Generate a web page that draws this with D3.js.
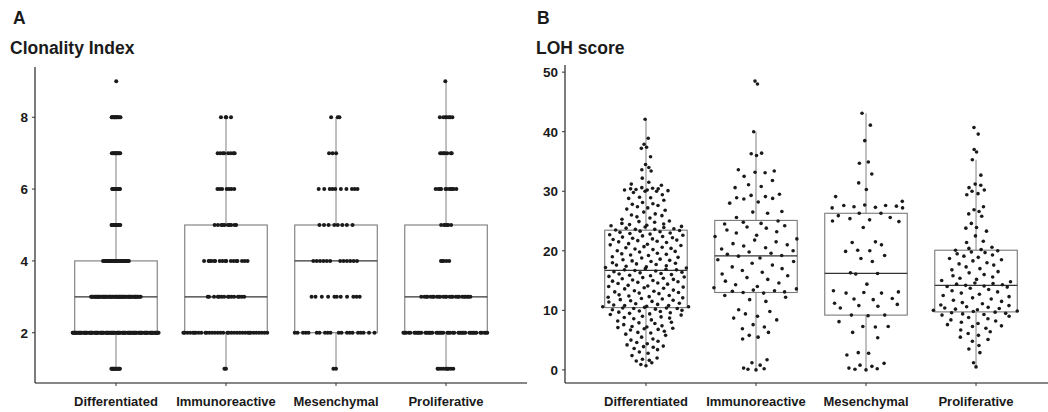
<!DOCTYPE html>
<html><head><meta charset="utf-8">
<script src="https://cdn.jsdelivr.net/npm/d3@7"></script>
<style>
body{margin:0;background:#fff}
text{font-family:"Liberation Sans",Arial,Helvetica,sans-serif;fill:#1a1a1a}
</style>
</head><body>
<svg id="chart" width="1048" height="412"></svg>
<script>
// ---------------- DATA ----------------
const categories = ["Differentiated","Immunoreactive","Mesenchymal","Proliferative"];

// Panel A: Clonality Index — number of samples at each integer level
const clonLevels = [1,2,3,4,5,6,7,8,9];
const clonDifferentiated = [12,100,57,30,11,11,10,11,1];
const clonImmunoreactive = [2,34,15,17,10,7,8,4,0];
const clonMesenchymal    = [2,20,11,12,8,10,3,3,0];
const clonProliferative  = [9,45,25,5,6,11,7,7,1];
const clonTicks = [2,4,6,8];
const clonQ1 = [2,2,2,2];
const clonMedian = [3,3,4,3];
const clonQ3 = [4,5,5,5];
const clonLow = [1,1,1,1];
const clonHigh = [7,8,8,9];

// Panel B: LOH score — individual sample values
const lohDifferentiated = [
 42.1,38.9,37.9,37.4,37.2,35.8,34.5,34.0,33.6,33.4,32.2,31.2,31.5,30.6,30.5,30.4,30.3,30.2,30.1,30.0,
 30.4,30.2,30.0,29.8,29.0,28.9,28.8,28.5,27.8,27.6,27.4,27.2,27.0,26.8,26.5,26.2,25.9,25.5,25.3,25.0,
 24.8,24.6,24.5,24.4,24.3,24.2,24.1,24.0,23.9,23.8,23.7,23.6,23.6,23.5,26.0,27.9,29.4,28.1,25.7,24.9,31.0,
 23.4,23.3,23.2,23.1,23.0,22.9,22.8,22.7,22.6,22.5,22.4,22.3,22.2,22.0,21.9,21.8,21.6,21.5,21.4,21.2,
 21.1,21.0,20.9,20.7,20.6,20.5,20.3,20.2,20.0,19.9,19.8,19.6,19.5,19.3,19.2,19.0,18.9,18.8,18.6,18.5,
 18.3,18.2,18.0,17.9,17.8,17.6,17.5,17.4,17.3,17.2,17.1,17.0,16.9,16.8,16.8,22.1,21.7,20.4,19.4,18.4,17.7,
 16.7,16.6,16.5,16.4,16.3,16.2,16.1,16.0,15.9,15.8,15.7,15.6,15.5,15.4,15.3,15.2,15.0,14.9,14.8,14.6,
 14.5,14.4,14.2,14.1,14.0,13.8,13.7,13.6,13.4,13.3,13.2,13.0,12.9,12.8,12.6,12.5,12.4,12.2,12.1,12.0,
 11.9,11.8,11.6,11.5,11.4,11.2,11.1,11.0,10.9,10.8,10.7,10.6,10.6,10.5,15.1,14.7,13.9,13.1,12.3,11.7,10.8,
 10.4,10.4,10.3,10.3,10.2,10.1,10.0,9.9,9.8,9.7,9.6,9.5,9.4,9.3,9.2,9.0,8.9,8.8,8.7,8.6,8.4,8.2,
 8.0,7.8,7.6,7.4,7.2,7.1,7.0,6.9,6.8,6.7,6.5,6.3,6.2,6.0,7.9,7.3,
 5.8,5.5,5.2,4.8,4.6,4.4,4.2,4.0,5.0,3.9,3.6,3.4,3.0,2.8,2.4,3.8,
 1.8,1.5,1.2,0.9,0.7,2.0,1.6
];
const lohImmunoreactive = [
 48.0,48.5,
 40.0,36.4,36.3,36.0,33.6,33.4,33.2,33.1,32.5,31.8,31.1,30.8,30.6,29.5,29.3,29.1,28.9,28.8,28.7,28.2,28.0,26.6,26.5,26.3,25.6,
 25.0,24.8,24.6,24.5,24.2,24.0,23.8,23.5,23.2,23.0,22.6,22.4,22.0,21.8,21.5,21.2,21.0,20.8,20.5,20.3,20.0,19.8,19.6,19.4,19.2,
 19.1,18.8,18.5,18.2,17.9,17.6,17.3,17.0,16.7,16.4,16.1,15.8,15.5,15.2,14.9,14.6,14.3,14.0,13.8,13.6,13.4,13.3,13.2,13.1,13.0,
 12.9,12.5,12.2,11.8,11.5,10.1,9.8,9.4,9.0,8.7,8.4,7.6,7.2,6.9,6.3,5.8,5.5,5.2,1.7,1.2,0.8,0.3,0.1,0.0,0.2
];
const lohMesenchymal = [
 43.1,41.1,38.5,34.9,34.7,32.9,31.4,30.3,29.1,28.3,27.7,27.6,27.5,27.4,27.3,27.2,27.6,27.2,26.3,26.3,
 25.9,25.6,25.4,25.2,25.0,24.9,23.9,21.5,21.4,21.0,20.1,20.0,19.9,19.2,18.7,18.2,16.3,16.2,16.1,14.4,
 13.3,13.1,13.0,12.9,12.9,12.0,11.9,11.8,11.2,11.0,10.8,10.7,10.4,9.2,9.2,9.1,8.1,7.3,7.2,7.3,
 6.3,5.4,2.9,2.8,2.5,1.1,0.6,0.3,0.1,0.0,0.2,0.8
];
const lohProliferative = [
 40.7,39.6,37.0,36.6,
 35.3,32.7,31.2,31.0,30.6,30.2,30.0,29.6,29.4,27.4,26.9,26.6,26.2,25.8,23.9,23.8,23.3,21.6,21.4,20.6,20.4,20.2,20.1,22.5,24.6,
 20.0,19.8,19.7,19.5,19.3,19.1,18.9,18.7,18.5,18.3,18.0,17.8,17.6,17.3,17.0,16.8,16.5,16.3,16.0,15.8,15.6,15.4,15.2,15.0,14.8,14.6,14.5,14.4,14.3,
 14.2,14.1,14.0,13.9,13.7,13.5,13.3,13.1,12.9,12.7,12.5,12.3,12.1,11.9,11.7,11.5,11.3,11.1,10.9,10.8,10.6,10.5,10.4,10.3,10.2,10.1,10.0,9.9,9.8,
 9.7,9.6,9.5,9.4,9.3,9.2,9.0,8.8,8.6,8.4,8.2,8.0,7.8,7.6,7.4,7.3,7.0,6.7,6.4,6.1,5.8,5.5,5.1,4.8,4.1,3.5,2.9,1.2,0.5
];
const lohTicks = [0,10,20,30,40,50];
const lohQ1 = [10.46,13.0,9.2,9.74];
const lohMedian = [16.7,19.15,16.2,14.2];
const lohQ3 = [23.46,25.1,26.3,20.1];
const lohLow = [0.7,0.0,0.0,0.5];
const lohHigh = [42.1,40.0,43.1,35.3];

// ---------------- HELPERS ----------------
function expandCounts(levels, counts){
  const out=[]; levels.forEach((v,i)=>{ for(let k=0;k<counts[i];k++) out.push(v); }); return out;
}
function bwNrd0(x){
  const n=x.length, s=d3.deviation(x);
  const srt=x.slice().sort(d3.ascending);
  const iqr=d3.quantile(srt,0.75)-d3.quantile(srt,0.25);
  let lo=Math.min(s, iqr/1.34);
  if(!(lo>0)) lo = s || Math.abs(x[0]) || 1;
  return 0.9*lo*Math.pow(n,-0.2);
}
function vdc(i){ let v=0, d=1; while(i>0){ d*=2; v+=(i%2)/d; i=Math.floor(i/2);} return v; }
// quasirandom offsets (vipor-style): van der Corput ranks scaled by KDE
function quasiOffsets(vals, width){
  const n=vals.length, bw=bwNrd0(vals)*0.5;
  const kde=t=>d3.sum(vals,v=>Math.exp(-0.5*((t-v)/bw)**2));
  const lo=d3.min(vals)-3*bw, hi=d3.max(vals)+3*bw;
  let mx=0; for(let k=0;k<512;k++) mx=Math.max(mx,kde(lo+(hi-lo)*k/511));
  const idx=d3.range(n).sort((a,b)=>(vals[a]-vals[b])||(a-b));
  const rank=new Array(n); idx.forEach((j,r)=>rank[j]=r+1);
  return vals.map((v,j)=>(vdc(rank[j])-0.5)*2*Math.min(1,kde(v)/mx)*width);
}

const svg=d3.select("#chart");

function drawPanel(cfg){
  const g=svg.append("g");
  const x=d3.scalePoint().domain(categories).range(cfg.xRange).padding(0.736);
  const step=x.step();
  const y=d3.scaleLinear().domain(cfg.yDomain).range([cfg.bottom,cfg.top]);
  const bw=step*0.75;

  // boxes
  categories.forEach((c,i)=>{
    const cx=x(c);
    g.append("line").attr("x1",cx).attr("x2",cx).attr("y1",y(cfg.q3[i])).attr("y2",y(cfg.high[i]))
      .attr("stroke","#8c8c8c").attr("stroke-width",1.1);
    g.append("line").attr("x1",cx).attr("x2",cx).attr("y1",y(cfg.q1[i])).attr("y2",y(cfg.low[i]))
      .attr("stroke","#8c8c8c").attr("stroke-width",1.1);
    g.append("rect").attr("x",cx-bw/2).attr("y",y(cfg.q3[i])).attr("width",bw)
      .attr("height",y(cfg.q1[i])-y(cfg.q3[i])).attr("fill","none").attr("stroke","#7a7a7a").attr("stroke-width",1.1);
    g.append("line").attr("x1",cx-bw/2).attr("x2",cx+bw/2).attr("y1",y(cfg.med[i])).attr("y2",y(cfg.med[i]))
      .attr("stroke","#333").attr("stroke-width",1.3);
  });

  // points
  categories.forEach((c,i)=>{
    const vals=cfg.groups[i];
    const offs=quasiOffsets(vals,0.4);
    g.append("g").selectAll("circle").data(vals).join("circle")
      .attr("cx",(d,j)=>x(c)+offs[j]*step).attr("cy",d=>y(d)).attr("r",cfg.r).attr("fill","#1a1a1a");
  });

  // axes
  const ax=cfg.xRange[0];
  g.append("line").attr("x1",ax).attr("x2",ax).attr("y1",cfg.top).attr("y2",cfg.bottom).attr("stroke","#111").attr("stroke-width",1.1);
  g.append("line").attr("x1",ax).attr("x2",cfg.xEnd).attr("y1",cfg.bottom).attr("y2",cfg.bottom).attr("stroke","#111").attr("stroke-width",1.1);
  cfg.ticks.forEach(t=>{
    g.append("line").attr("x1",ax-3).attr("x2",ax).attr("y1",y(t)).attr("y2",y(t)).attr("stroke","#333");
    g.append("text").attr("x",ax-7).attr("y",y(t)).attr("dy","0.36em").attr("text-anchor","end")
      .attr("font-size",13.5).attr("font-weight","bold").text(t);
  });
  categories.forEach(c=>{
    g.append("line").attr("x1",x(c)).attr("x2",x(c)).attr("y1",cfg.bottom).attr("y2",cfg.bottom+3).attr("stroke","#333");
    g.append("text").attr("x",x(c)).attr("y",406).attr("text-anchor","middle")
      .attr("font-size",13).attr("font-weight","bold").text(c);
  });
  // titles
  g.append("text").attr("x",cfg.letterX).attr("y",24).attr("font-size",17.5).attr("font-weight","bold").text(cfg.letter);
  g.append("text").attr("x",cfg.titleX).attr("y",54).attr("font-size",17.5).attr("font-weight","bold").text(cfg.title);
}

drawPanel({
  letter:"A", letterX:13, title:"Clonality Index", titleX:10,
  xRange:[35,527], xEnd:527, top:67, bottom:383, yDomain:[0.6,9.4],
  ticks:clonTicks, r:2,
  groups:[clonDifferentiated,clonImmunoreactive,clonMesenchymal,clonProliferative].map(cn=>expandCounts(clonLevels,cn)),
  q1:clonQ1, med:clonMedian, q3:clonQ3, low:clonLow, high:clonHigh
});
drawPanel({
  letter:"B", letterX:537, title:"LOH score", titleX:536,
  xRange:[565,1057], xEnd:1048, top:65, bottom:383, yDomain:[-2.2,51.2],
  ticks:lohTicks, r:1.8,
  groups:[lohDifferentiated,lohImmunoreactive,lohMesenchymal,lohProliferative],
  q1:lohQ1, med:lohMedian, q3:lohQ3, low:lohLow, high:lohHigh
});
</script>
</body></html>
